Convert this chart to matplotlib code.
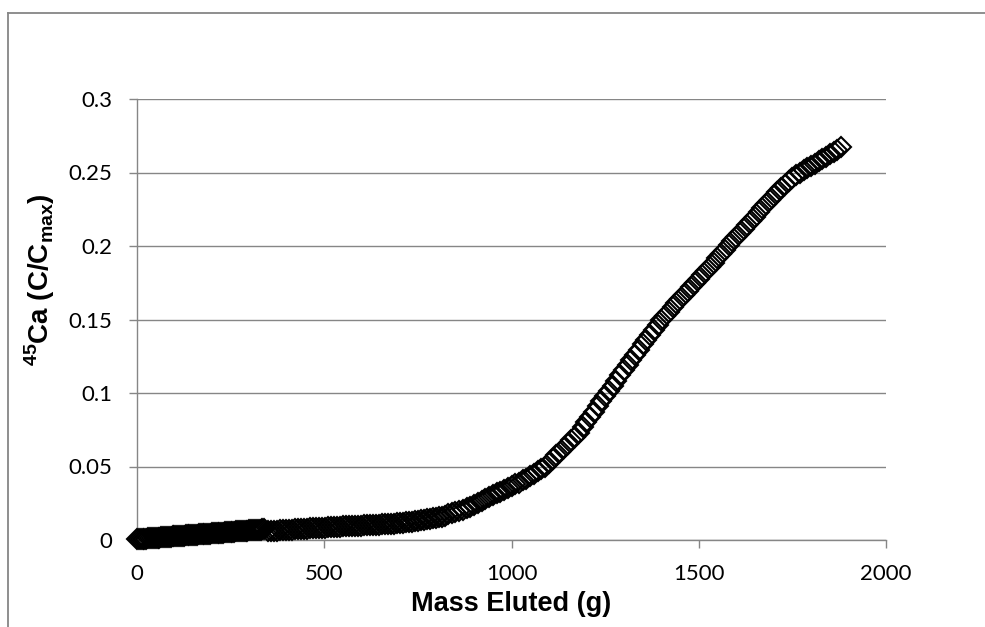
import matplotlib
matplotlib.use('Agg')
import matplotlib.pyplot as plt
from matplotlib.lines import Line2D

# ---- data ----
mass_a = [0, 5, 10, 15, 20, 25, 30, 35, 40, 45, 50, 55, 60, 65, 70, 75, 80, 85, 90, 95,
          100, 105, 110, 115, 120, 125, 130, 135, 140, 145, 150, 155, 160, 165, 170, 175,
          180, 185, 190, 195, 200, 205, 210, 215, 220, 225, 230, 235, 240, 245, 250, 255,
          260, 265, 270, 275, 280, 285, 290, 295, 300, 305, 310, 315, 320, 325, 330, 335, 340]
ratio_a = [0.0005, 0.0006, 0.0007, 0.0008, 0.0009, 0.0010, 0.0011, 0.0012, 0.0013, 0.0014,
           0.0015, 0.0016, 0.0017, 0.0018, 0.0019, 0.0020, 0.0021, 0.0022, 0.0023, 0.0024,
           0.0025, 0.0026, 0.0027, 0.0028, 0.0029, 0.0030, 0.0031, 0.0032, 0.0033, 0.0034,
           0.0035, 0.0036, 0.0037, 0.0038, 0.0039, 0.0040, 0.0041, 0.0042, 0.0043, 0.0044,
           0.0045, 0.0046, 0.0047, 0.0048, 0.0049, 0.0050, 0.0051, 0.0052, 0.0053, 0.0054,
           0.0055, 0.0056, 0.0057, 0.0058, 0.0059, 0.0060, 0.0061, 0.0062, 0.0063, 0.0064,
           0.0065, 0.0066, 0.0067, 0.0068, 0.0069, 0.0070, 0.0071, 0.0072, 0.0073]

mass_b = [350, 358, 366, 374, 382, 390, 398, 406, 414, 422,
          430, 438, 446, 454, 462, 470, 478, 486, 494, 502,
          510, 518, 526, 534, 542, 550, 558, 566, 574, 582,
          590, 598, 606, 614, 622, 630, 638, 646, 654, 662,
          670, 678, 686, 694, 702, 710, 718, 726, 734, 742,
          750, 758, 766, 774, 782, 790, 798, 806, 814, 822]
ratio_b = [0.0060, 0.0061, 0.0063, 0.0064, 0.0065, 0.0067, 0.0068, 0.0069, 0.0071, 0.0072,
           0.0073, 0.0075, 0.0076, 0.0077, 0.0079, 0.0080, 0.0081, 0.0083, 0.0084, 0.0085,
           0.0086, 0.0087, 0.0088, 0.0090, 0.0091, 0.0092, 0.0093, 0.0094, 0.0095, 0.0096,
           0.0097, 0.0098, 0.0099, 0.0100, 0.0101, 0.0102, 0.0103, 0.0104, 0.0106, 0.0107,
           0.0109, 0.0111, 0.0112, 0.0114, 0.0116, 0.0118, 0.0120, 0.0123, 0.0125, 0.0128,
           0.0130, 0.0133, 0.0137, 0.0140, 0.0143, 0.0147, 0.0151, 0.0154, 0.0158, 0.0162]

mass_c = [830, 840, 850, 860, 870, 880, 890, 900, 910, 920,
          930, 940, 950, 960, 970, 980, 990, 1000, 1010, 1020,
          1030, 1040, 1050, 1060, 1070, 1080, 1090, 1100, 1110, 1120,
          1130, 1140, 1150, 1160, 1170, 1180, 1190, 1200, 1210, 1220,
          1230, 1240, 1250, 1260, 1270, 1280, 1290, 1300, 1310, 1320,
          1330, 1340, 1350, 1360, 1370, 1380, 1390, 1400, 1410, 1420,
          1430, 1440, 1450, 1460, 1470, 1480, 1490, 1500, 1510, 1520,
          1530, 1540, 1550, 1560, 1570, 1580, 1590, 1600, 1610, 1620,
          1630, 1640, 1650, 1660, 1670, 1680, 1690, 1700, 1710, 1720,
          1730, 1740, 1750, 1760, 1770, 1780, 1790, 1800, 1810, 1820,
          1830, 1840, 1850, 1860, 1870, 1880]
ratio_c = [0.0175, 0.0182, 0.0190, 0.0198, 0.0206, 0.0215, 0.0227, 0.0239, 0.0252, 0.0265,
           0.0278, 0.0292, 0.0305, 0.0317, 0.0329, 0.0341, 0.0353, 0.0365, 0.0378, 0.0391,
           0.0405, 0.0418, 0.0432, 0.0449, 0.0466, 0.0483, 0.0500, 0.0525, 0.0550, 0.0575,
           0.0600, 0.0626, 0.0652, 0.0678, 0.0704, 0.0730, 0.0766, 0.0802, 0.0838, 0.0874,
           0.0910, 0.0945, 0.0980, 0.1015, 0.1050, 0.1085, 0.1120, 0.1155, 0.1190, 0.1225,
           0.1260, 0.1295, 0.1330, 0.1363, 0.1396, 0.1429, 0.1462, 0.1495, 0.1524, 0.1553,
           0.1582, 0.1611, 0.1640, 0.1667, 0.1694, 0.1721, 0.1748, 0.1775, 0.1803, 0.1831,
           0.1859, 0.1887, 0.1915, 0.1945, 0.1975, 0.2005, 0.2033, 0.2062, 0.2090, 0.2118,
           0.2145, 0.2173, 0.2200, 0.2228, 0.2256, 0.2284, 0.2312, 0.2340, 0.2367, 0.2393,
           0.2418, 0.2441, 0.2462, 0.2481, 0.2498, 0.2514, 0.2529, 0.2544, 0.2559, 0.2575,
           0.2591, 0.2607, 0.2623, 0.2639, 0.2655, 0.2671]

x_ticks = [0, 500, 1000, 1500, 2000]
x_tick_labels = ['0', '500', '1000', '1500', '2000']
y_ticks = [0, 0.05, 0.1, 0.15, 0.2, 0.25, 0.3]
y_tick_labels = ['0', '0.05', '0.1', '0.15', '0.2', '0.25', '0.3']

x_label = 'Mass Eluted (g)'
y_label = r'$^{\mathbf{45}}$Ca (C/C$_{\mathbf{max}}$)'

# ---- styling ----
plt.rcParams['mathtext.fontset'] = 'custom'
plt.rcParams['mathtext.rm'] = 'Liberation Sans'
plt.rcParams['mathtext.bf'] = 'Liberation Sans:bold'

W, H = 985, 627
grey = '#868686'

fig = plt.figure(figsize=(W / 100, H / 100), dpi=100)
ax = fig.add_axes([137 / W, 1 - 540 / H, (886 - 137) / W, (540 - 99) / H])

for xs, ys in [(mass_a, ratio_a), (mass_b, ratio_b), (mass_c, ratio_c)]:
    ax.plot(xs, ys, linestyle='none', marker='D', markersize=10,
            markerfacecolor='none', markeredgecolor='black', markeredgewidth=1.5,
            clip_on=False, zorder=3)

ax.set_xlim(0, 2000)
ax.set_ylim(0, 0.3)
ax.set_xticks(x_ticks)
ax.set_xticklabels(x_tick_labels)
ax.set_yticks(y_ticks)
ax.set_yticklabels(y_tick_labels)

ax.yaxis.grid(True, color=grey, linewidth=1.0)
ax.set_axisbelow(True)
for s in ['top', 'right']:
    ax.spines[s].set_visible(False)
for s in ['left', 'bottom']:
    ax.spines[s].set_color(grey)
    ax.spines[s].set_linewidth(1.0)

ax.tick_params(axis='both', direction='out', length=6, width=1.0, color=grey,
               labelsize=16, pad=11.5, labelcolor='black')
for lab in ax.get_xticklabels() + ax.get_yticklabels():
    lab.set_fontfamily('Lato')

fig.text(511.5 / W, 1 - 611 / H, x_label, ha='center', va='baseline',
         fontsize=19.5, fontweight='bold', family='Liberation Sans')
fig.text(40 / W, 1 - 280 / H, y_label, rotation=90, ha='center', va='center',
         fontsize=20, fontweight='bold', family='Liberation Sans')

# outer chart-area frame (top and left edges visible)
fig.add_artist(Line2D([8 / W, 1.0], [1 - 12.5 / H, 1 - 12.5 / H], transform=fig.transFigure,
                      color=grey, linewidth=1.3))
fig.add_artist(Line2D([8 / W, 8 / W], [0.0, 1 - 12.5 / H], transform=fig.transFigure,
                      color=grey, linewidth=1.3))

fig.savefig('out.png', dpi=100)
